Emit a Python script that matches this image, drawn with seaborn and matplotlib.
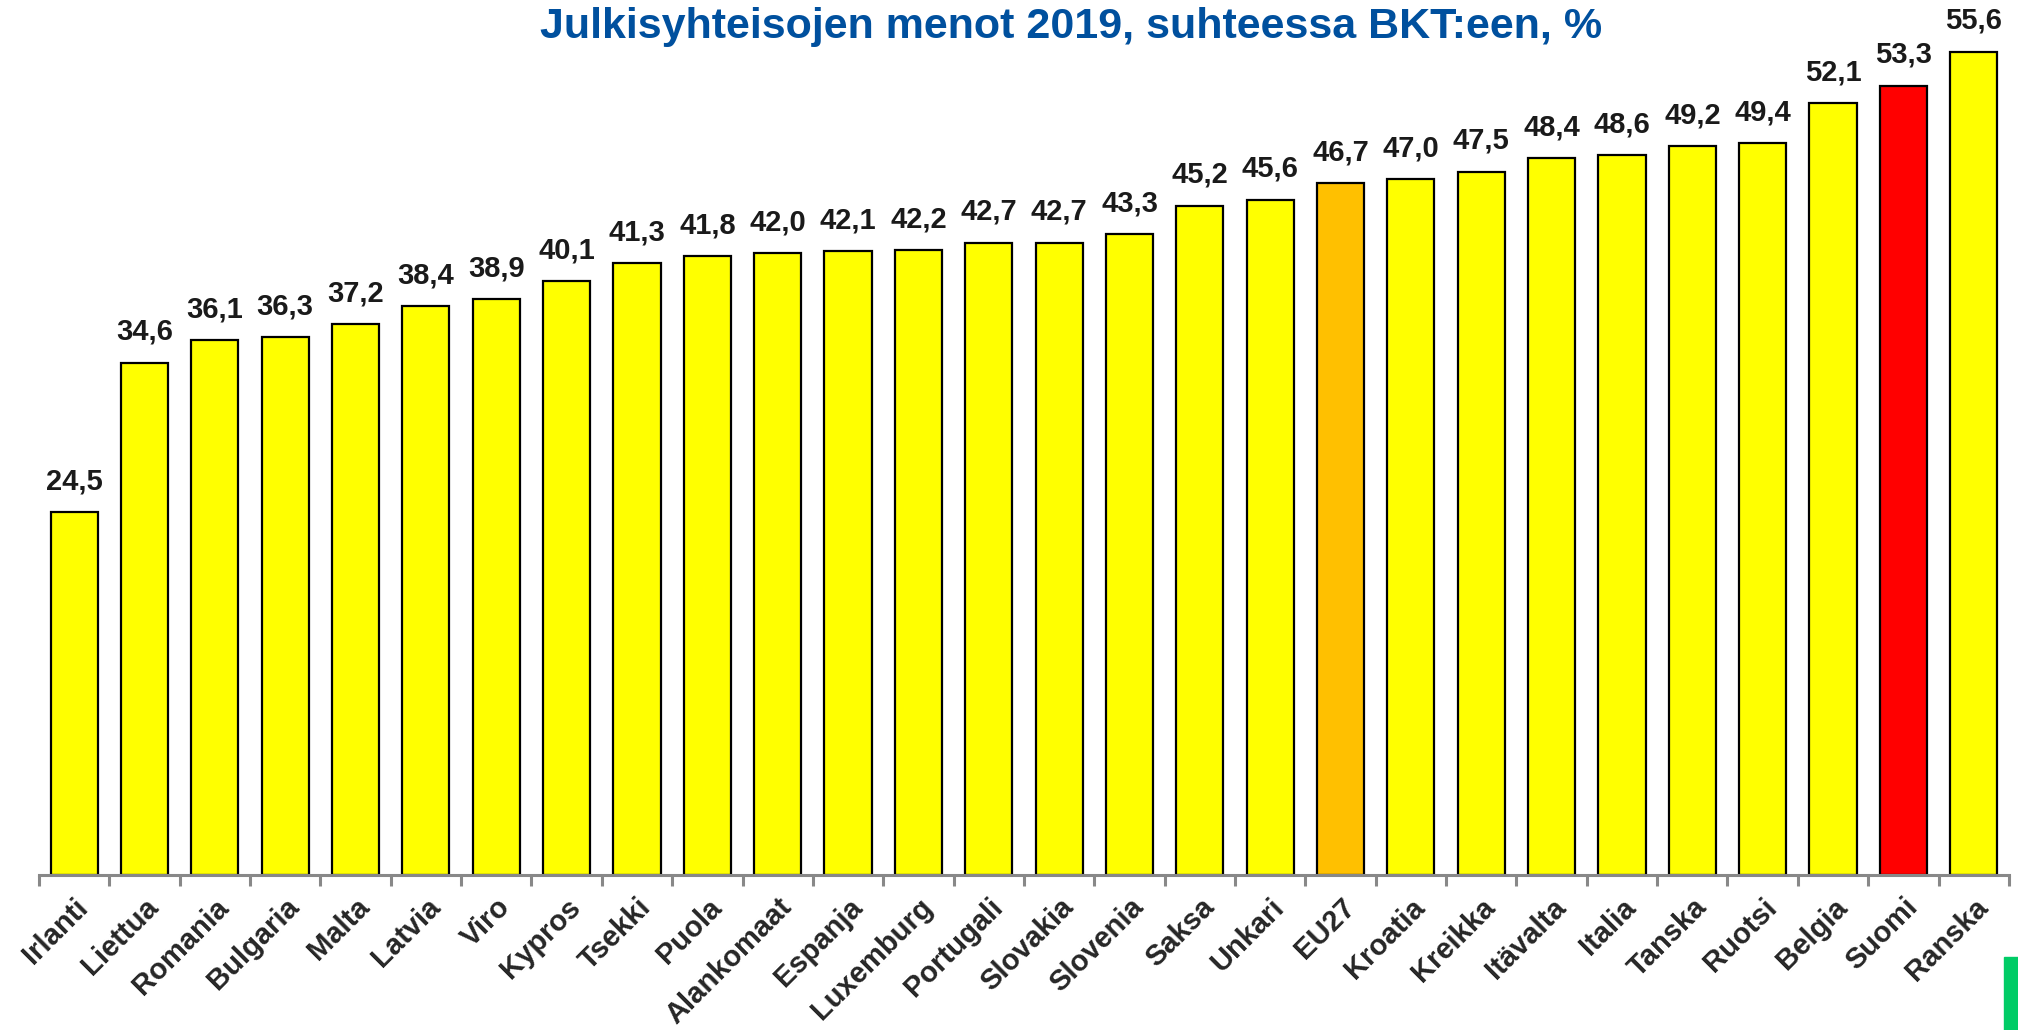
import matplotlib
matplotlib.use('Agg')
import matplotlib.pyplot as plt
import seaborn as sns
import pandas as pd
from matplotlib.patches import Rectangle

maat = ['Irlanti', 'Liettua', 'Romania', 'Bulgaria', 'Malta', 'Latvia', 'Viro',
        'Kypros', 'Tsekki', 'Puola', 'Alankomaat', 'Espanja', 'Luxemburg',
        'Portugali', 'Slovakia', 'Slovenia', 'Saksa', 'Unkari', 'EU27', 'Kroatia',
        'Kreikka', 'Itävalta', 'Italia', 'Tanska', 'Ruotsi', 'Belgia', 'Suomi', 'Ranska']
menot = [24.5, 34.6, 36.1, 36.3, 37.2, 38.4, 38.9, 40.1, 41.3, 41.8, 42.0, 42.1, 42.2,
         42.7, 42.7, 43.3, 45.2, 45.6, 46.7, 47.0, 47.5, 48.4, 48.6, 49.2, 49.4, 52.1,
         53.3, 55.6]
korostus = {'EU27': '#FFC000', 'Suomi': '#FF0000'}

df = pd.DataFrame({'maa': maat, 'menot': menot})
varit = [korostus.get(m, '#FFFF00') for m in maat]

sns.set_style('white')
plt.rcParams['font.family'] = ['Liberation Sans', 'DejaVu Sans']
plt.rcParams['font.weight'] = 'bold'

fig = plt.figure(figsize=(20.18, 10.30), dpi=100)
ax = fig.add_axes([0.0193, 0.1505, 0.9762, 0.8495])

sns.barplot(data=df, x='maa', y='menot', hue='maa', palette=varit, legend=False,
            saturation=1, width=0.67, edgecolor='black', linewidth=1.6, ax=ax)

for cont in ax.containers:
    ax.bar_label(cont, labels=[f'{v:.1f}'.replace('.', ',') for v in cont.datavalues],
                 padding=12, fontsize=21, fontweight='bold', color='#1a1a1a')

ax.set_ylim(0, 59.08)
ax.set_xlim(-0.5, len(maat) - 0.5)
ax.set_xlabel('')
ax.set_ylabel('')
ax.set_yticks([])
for s in ['left', 'top', 'right']:
    ax.spines[s].set_visible(False)
ax.spines['bottom'].set_color('#888888')
ax.spines['bottom'].set_linewidth(2.2)

ax.set_xticks(range(len(maat)))
ax.set_xticklabels(maat, rotation=45, ha='right', rotation_mode='anchor',
                   fontsize=21, fontweight='bold')
ax.set_xticks([i - 0.5 for i in range(len(maat) + 1)], minor=True)
ax.tick_params(axis='x', which='major', length=0, pad=13)
ax.tick_params(axis='x', which='minor', length=8, width=2.2, color='#888888', bottom=True)

# otsikko hieman alempana, jotta se mahtuu kokonaan kuvaan
fig.text(0.531, 0.963, 'Julkisyhteisojen menot 2019, suhteessa BKT:een, %',
         ha='center', va='baseline', fontsize=31, fontweight='bold', color='#00509E')

fig.patches.append(Rectangle((2004 / 2018, 0), 14 / 2018, 73 / 1030,
                             transform=fig.transFigure, color='#00CC66', zorder=5))

fig.savefig('out.png', dpi=100)
